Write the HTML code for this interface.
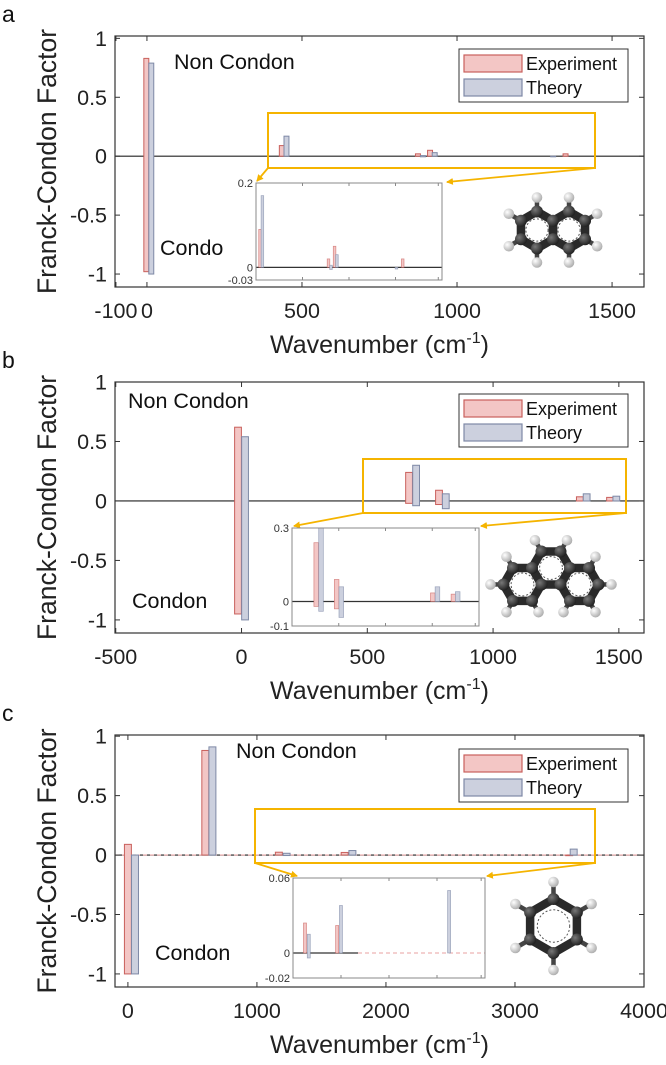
<!DOCTYPE html>
<html><head><meta charset="utf-8"><style>
html,body{margin:0;padding:0;background:#fff;}
svg{display:block;font-family:"Liberation Sans",Arial,sans-serif;}
</style></head><body>
<svg id="fig" width="666" height="1065" viewBox="0 0 666 1065" xmlns="http://www.w3.org/2000/svg">
<defs>
<radialGradient id="cg" cx="35%" cy="35%" r="70%"><stop offset="0" stop-color="#777"/><stop offset="1" stop-color="#1e1e1e"/></radialGradient>
<radialGradient id="hg" cx="35%" cy="35%" r="70%"><stop offset="0" stop-color="#fff"/><stop offset="1" stop-color="#aaa"/></radialGradient>
<marker id="arr" markerWidth="8" markerHeight="8" refX="6" refY="4" orient="auto" markerUnits="userSpaceOnUse"><path d="M0,0.5 L7,4 L0,7.5 Z" fill="#f5b400"/></marker>
</defs>
</svg>
<script>
// ---------- Panel a data ----------
const aExpX=[-2,435,874,913,1350];
const aExpPos=[0.83,0.09,0.02,0.05,0.02];
const aExpNeg=[-0.98,0,0,0,0];
const aThX=[14,450,890,928,1310];
const aThPos=[0.79,0.17,0.005,0.03,0];
const aThNeg=[-1.0,0,-0.005,0,-0.004];
const aXTicks=[-100,0,500,1000,1500];
const aXTickLabels=["-100","0","500","1000","1500"];
// ---------- Panel b data ----------
const bExpX=[-14,666,785,1345,1465];
const bExpPos=[0.62,0.24,0.09,0.035,0.03];
const bExpNeg=[-0.95,-0.02,-0.03,0,0];
const bThX=[14,694,812,1372,1490];
const bThPos=[0.54,0.30,0.06,0.06,0.04];
const bThNeg=[-1.0,-0.04,-0.065,0,0];
const bXTicks=[-500,0,500,1000,1500];
const bXTickLabels=["-500","0","500","1000","1500"];
// ---------- Panel c data ----------
const cExpX=[0,600,1170,1680,3420];
const cExpPos=[0.09,0.88,0.024,0.022,0];
const cExpNeg=[-1.0,0,0,0,0];
const cThX=[55,655,1230,1740,3455];
const cThPos=[0,0.91,0.015,0.038,0.05];
const cThNeg=[-1.0,0,-0.004,0,0];
const cXTicks=[0,1000,2000,3000,4000];
const cXTickLabels=["0","1000","2000","3000","4000"];
const yTicks=[-1,-0.5,0,0.5,1];
const yTickLabels=["-1","-0.5","0","0.5","1"];
const aInsetYTicks=[-0.03,0,0.2], aInsetYLabels=["-0.03","0","0.2"];
const bInsetYTicks=[-0.1,0,0.3], bInsetYLabels=["-0.1","0","0.3"];
const cInsetYTicks=[-0.02,0,0.06], cInsetYLabels=["-0.02","0","0.06"];

const svg=document.getElementById('fig');
const NS="http://www.w3.org/2000/svg";
function mk(tag,at,parent){const e=document.createElementNS(NS,tag);for(const k in at)e.setAttribute(k,at[k]);(parent||svg).appendChild(e);return e;}
const EXPF="#f3c6c5",EXPS="#c9605c",THF="#ccd0de",THS="#7e89a6",YEL="#f5b400";

function panel(o){
  const g=mk('g',{});
  
  
  const L=115,R=644,T=o.top,B=o.bottom;
  const sx=v=>L+(v-o.xmin)/(o.xmax-o.xmin)*(R-L);
  const sy=v=>T+(o.ymax-v)/(o.ymax-o.ymin)*(B-T);
  let t=mk('text',{x:2,y:T-14,'font-size':23,fill:'#111'},g);t.textContent=o.id;
  
  let z=mk('line',{x1:L,x2:R,y1:sy(0),y2:sy(0),stroke:'#222','stroke-width':1.2},g);
  
  if(o.id==='c'){let d=mk('line',{x1:L,x2:R,y1:sy(0),y2:sy(0),stroke:'#e8a0a0','stroke-width':1,'stroke-dasharray':'4 3'},g);
    }
  const series=[[o.expX,o.expPos,o.expNeg,EXPF,EXPS,'experiment'],[o.thX,o.thPos,o.thNeg,THF,THS,'theory']];
  series.forEach(s=>{s[0].forEach((x,i)=>{
    const x0=sx(x-o.bw/2),x1=sx(x+o.bw/2);const y0=sy(s[1][i]),y1=sy(s[2][i]);
    const r=mk('rect',{x:x0,y:y0,width:x1-x0,height:Math.max(0.6,y1-y0),fill:s[3],stroke:s[4],'stroke-width':1},g);
    
  });});
  let bx=mk('rect',{x:L,y:T,width:R-L,height:B-T,fill:'none',stroke:'#333','stroke-width':1.2},g);
  
  yTicks.forEach((v,i)=>{
    const y=sy(v);
    mk('line',{x1:L,x2:L+5,y1:y,y2:y,stroke:'#333'},g);mk('line',{x1:R-5,x2:R,y1:y,y2:y,stroke:'#333'},g);
    const tx=mk('text',{x:L-8,y:y+7.5,'font-size':21.5,'text-anchor':'end',fill:'#222'},g);tx.textContent=yTickLabels[i];
    
  });
  o.xt.forEach((v,i)=>{
    const x=sx(v);
    mk('line',{x1:x,x2:x,y1:B,y2:B-5,stroke:'#333'},g);mk('line',{x1:x,x2:x,y1:T,y2:T+5,stroke:'#333'},g);
    const tx=mk('text',{x:x,y:B+31,'font-size':21.5,'text-anchor':'middle',fill:'#222'},g);tx.textContent=o.xtl[i];
    
  });
  let yt=mk('text',{x:0,y:0,'font-size':26.5,'text-anchor':'middle',fill:'#222',transform:`translate(56,${(T+B)/2}) rotate(-90)`},g);
  yt.textContent='Franck-Condon Factor';
  let xt=mk('text',{x:(L+R)/2,y:B+66,'font-size':25,'text-anchor':'middle',fill:'#222'},g);
  xt.innerHTML='Wavenumber (cm<tspan dy="-10" font-size="16">-1</tspan><tspan dy="10">)</tspan>';
  
  let nc=mk('text',{x:o.ncx,y:o.ncy,'font-size':21.5,fill:'#111'},g);nc.textContent='Non Condon';
  
  let cc=mk('text',{x:o.cx,y:o.cy,'font-size':21.5,fill:'#111'},g);cc.textContent=o.ctext;
  
  const lg=mk('g',{},g);
  const lt=o.legTop;
  mk('rect',{x:459,y:lt,width:169,height:53,fill:'#fff',stroke:'#333','stroke-width':1},lg);
  [[EXPF,EXPS,'Experiment',6],[THF,THS,'Theory',30]].forEach(e=>{
    const sw=mk('rect',{x:464,y:lt+e[3],width:58,height:17,fill:e[0],stroke:e[1],'stroke-width':1.2},lg);
    
    const tx=mk('text',{x:526,y:lt+e[3]+15,'font-size':18,fill:'#111'},lg);tx.textContent=e[2];
    
  });
  const yb=o.yb;
  let yr=mk('rect',{x:yb[0],y:yb[1],width:yb[2]-yb[0],height:yb[3]-yb[1],fill:'none',stroke:YEL,'stroke-width':2},g);
  
  const ib=o.ib;
  let a1=mk('line',{x1:yb[0],y1:yb[3],x2:o.arL[0],y2:o.arL[1],stroke:YEL,'stroke-width':1.8,'marker-end':'url(#arr)'},g);
  
  let a2=mk('line',{x1:yb[2],y1:yb[3],x2:o.arR[0],y2:o.arR[1],stroke:YEL,'stroke-width':1.8,'marker-end':'url(#arr)'},g);
  
  const ig=mk('g',{},g);
  const isx=v=>ib[0]+(v-o.ixmin)/(o.ixmax-o.ixmin)*(ib[2]-ib[0]);
  const isy=v=>ib[1]+(o.iymax-v)/(o.iymax-o.iymin)*(ib[3]-ib[1]);
  mk('rect',{x:ib[0],y:ib[1],width:ib[2]-ib[0],height:ib[3]-ib[1],fill:'#fff',stroke:'none'},ig);
  const cid='clip'+o.id;const cp=mk('clipPath',{id:cid},ig);mk('rect',{x:ib[0],y:ib[1],width:ib[2]-ib[0],height:ib[3]-ib[1]},cp);
  const ic=mk('g',{'clip-path':`url(#${cid})`},ig);
  if(o.id==='c'){mk('line',{x1:ib[0],x2:ib[0]+65,y1:isy(0),y2:isy(0),stroke:'#333','stroke-width':1.2},ic);
    mk('line',{x1:ib[0]+65,x2:ib[2],y1:isy(0),y2:isy(0),stroke:'#e8a0a0','stroke-width':1,'stroke-dasharray':'4 3'},ic);}
  else mk('line',{x1:ib[0],x2:ib[2],y1:isy(0),y2:isy(0),stroke:'#333','stroke-width':1.2},ic);
  series.forEach(s=>{s[0].forEach((x,i)=>{
    if(x<o.ixmin||x>o.ixmax)return;
    const cx=isx(x);const y0=isy(s[1][i]),y1=isy(s[2][i]);
    if(Math.abs(s[1][i])<0.001&&Math.abs(s[2][i])<0.001)return;
    const r=mk('rect',{x:cx-o.ibw/2,y:y0,width:o.ibw,height:Math.max(0.6,y1-y0),fill:s[3],stroke:s[4],'stroke-width':0.7,'stroke-opacity':0.7},ic);
    
  });});
  mk('rect',{x:ib[0],y:ib[1],width:ib[2]-ib[0],height:ib[3]-ib[1],fill:'none',stroke:'#888','stroke-width':1},ig);
  o.iyt.forEach((v,i)=>{
    const tx=mk('text',{x:ib[0]-3,y:isy(v)+4,'font-size':11,'text-anchor':'end',fill:'#333'},ig);tx.textContent=o.iytl[i];
    
  });
  [0.25,0.5,0.75,0.98].forEach(f=>{const x=ib[0]+f*(ib[2]-ib[0]);mk('line',{x1:x,x2:x,y1:ib[1],y2:ib[1]+3,stroke:'#888'},ig);mk('line',{x1:x,x2:x,y1:ib[3],y2:ib[3]-3,stroke:'#888'},ig);});
}

panel({id:'a',top:36,bottom:287,xmin:-103,xmax:1603,ymin:-1.11,ymax:1.02,bw:16,
  expX:aExpX,expPos:aExpPos,expNeg:aExpNeg,thX:aThX,thPos:aThPos,thNeg:aThNeg,xt:aXTicks,xtl:aXTickLabels,
  ncx:174,ncy:69,cx:160,cy:255,ctext:'Condo',legTop:49,yb:[268,113,595,168],ib:[256,183,442,280],
  arL:[257,181],arR:[447,182],ixmin:409,ixmax:1602,iymin:-0.03,iymax:0.2,ibw:2.6,iyt:aInsetYTicks,iytl:aInsetYLabels});
panel({id:'b',top:382,bottom:633,xmin:-503,xmax:1600,ymin:-1.11,ymax:1.0,bw:27,
  expX:bExpX,expPos:bExpPos,expNeg:bExpNeg,thX:bThX,thPos:bThPos,thNeg:bThNeg,xt:bXTicks,xtl:bXTickLabels,
  ncx:128,ncy:408,cx:132,cy:608,ctext:'Condon',legTop:394,yb:[363,459,626,513],ib:[292,528,479,626],
  arL:[294,526],arR:[481,526],ixmin:525,ixmax:1614,iymin:-0.1,iymax:0.3,ibw:4.6,iyt:bInsetYTicks,iytl:bInsetYLabels});
panel({id:'c',top:735,bottom:987,xmin:-100,xmax:4000,ymin:-1.11,ymax:1.01,bw:54,
  expX:cExpX,expPos:cExpPos,expNeg:cExpNeg,thX:cThX,thPos:cThPos,thNeg:cThNeg,xt:cXTicks,xtl:cXTickLabels,
  ncx:236,ncy:758,cx:155,cy:960,ctext:'Condon',legTop:749,yb:[255,809,595,863],ib:[293,878,485,978],
  arL:[297,876],arR:[487,876],ixmin:980,ixmax:4024,iymin:-0.02,iymax:0.06,ibw:3,iyt:cInsetYTicks,iytl:cInsetYLabels});

// ---------- molecules ----------
function hexPts(cx,cy,r,pointy){const p=[];for(let k=0;k<6;k++){const a=(pointy?-90:0)+60*k;p.push([cx+r*Math.cos(a*Math.PI/180),cy+r*Math.sin(a*Math.PI/180)]);}return p;}
function molecule(name,rings,r,pointy,hydro){
  const g=mk('g',{});
  
  
  const atoms=[];const key=p=>Math.round(p[0])+','+Math.round(p[1]);const seen={};
  const bonds=[];
  rings.forEach(c=>{const p=hexPts(c[0],c[1],r,pointy);p.forEach((q,k)=>{if(!seen[key(q)]){seen[key(q)]=1;atoms.push(q);}bonds.push([q,p[(k+1)%6]]);});});
  hydro.forEach(h=>{mk('line',{x1:h[0][0],y1:h[0][1],x2:h[1][0],y2:h[1][1],stroke:'#444','stroke-width':4.5},g);});
  bonds.forEach(b=>mk('line',{x1:b[0][0],y1:b[0][1],x2:b[1][0],y2:b[1][1],stroke:'#2a2a2a','stroke-width':8.5,'stroke-linecap':'round'},g));
  rings.forEach(c=>mk('circle',{cx:c[0],cy:c[1],r:r*0.6,fill:'none',stroke:'#555','stroke-width':1,'stroke-dasharray':'2 2'},g));
  atoms.forEach(a=>mk('circle',{cx:a[0],cy:a[1],r:6,fill:'url(#cg)'},g));
  hydro.forEach(h=>mk('circle',{cx:h[1][0],cy:h[1][1],r:5.3,fill:'url(#hg)'},g));
}
function hForAtoms(rings,r,pointy,d){
  const res=[];const cnt={};const key=p=>Math.round(p[0])+','+Math.round(p[1]);
  const all=[];rings.forEach((c,ri)=>hexPts(c[0],c[1],r,pointy).forEach(p=>{cnt[key(p)]=(cnt[key(p)]||0)+1;all.push([p,c]);}));
  all.forEach(([p,c])=>{if(cnt[key(p)]===1){const dx=p[0]-c[0],dy=p[1]-c[1],l=Math.hypot(dx,dy);res.push([p,[p[0]+dx/l*d,p[1]+dy/l*d]]);}});
  return res;
}
{const r=18.5,s=r*Math.sqrt(3);const rings=[[553-s/2,230],[553+s/2,230]];molecule('naphthalene-molecule',rings,r,true,hForAtoms(rings,r,true,14));}
{const r=19;const rings=[[551,568],[551-1.5*r,568+r*Math.sqrt(3)/2],[551+1.5*r,568+r*Math.sqrt(3)/2]];
 molecule('phenanthrene-molecule',rings,r,false,hForAtoms(rings,r,false,13));}
{const r=27;const rings=[[553.5,926]];molecule('benzene-molecule',rings,r,true,hForAtoms(rings,r,true,17));}
</script>
</body></html>
